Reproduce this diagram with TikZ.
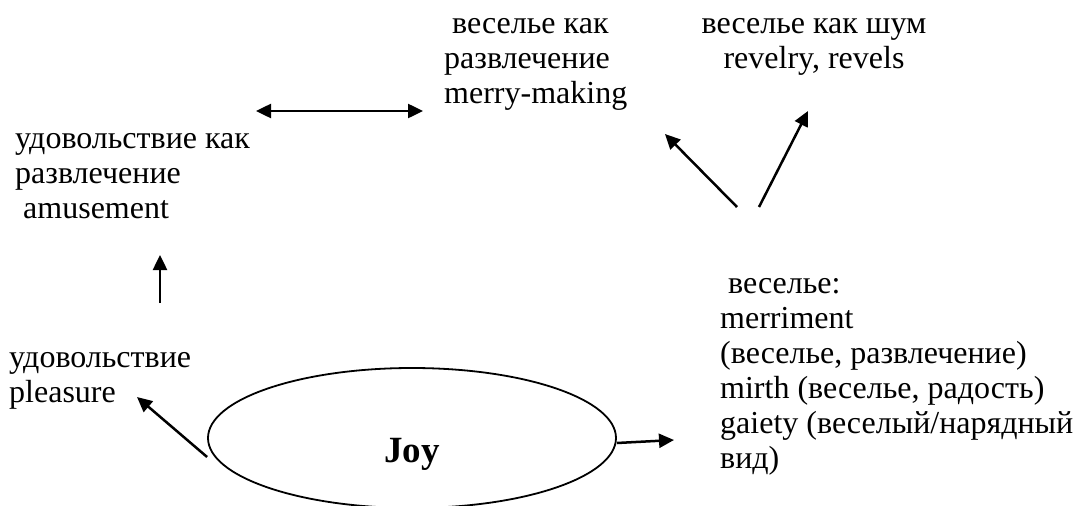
\documentclass[tikz,border=0pt]{standalone}
\usepackage{fontspec}
\setmainfont{Liberation Serif}
\usetikzlibrary{shapes.geometric, arrows.meta, positioning, calc}

\begin{document}
\begin{tikzpicture}[x=1pt, y=-1pt,
    txt/.style={anchor=base west, align=left, inner sep=0pt, font=\fontsize{32}{35}\selectfont},
    ctxt/.style={anchor=base, align=center, inner sep=0pt, font=\fontsize{32}{35}\selectfont},
    arr/.style={-{Triangle[length=15pt, width=14pt]}, line width=2.5pt},
    darr/.style={{Triangle[length=15pt, width=14pt]}-{Triangle[length=15pt, width=14pt]}, line width=2.5pt},
    oval/.style={ellipse, draw, line width=1.8pt, minimum width=408pt, minimum height=140pt, inner sep=0pt},
]
    \useasboundingbox (0,0) rectangle (1074,506);
    % Central node
    \node[oval] (joy) at (412,438) {};
    \node[font=\fontsize{37}{42}\selectfont\bfseries, anchor=base] (joytext) at (412,462) {Joy};
    % Senses (positions are last-line baselines)
    \node[txt] (pleasure) at (9,402) {удовольствие\\pleasure};
    \node[txt] (amuse) at (15,218) {удовольствие как\\развлечение\\\ amusement};
    \node[txt] (merrymaking) at (444,103) {\ веселье как\\развлечение\\merry-making};
    \node[ctxt] (revelry) at (814,68) {веселье как шум\\revelry, revels};
    \node[txt] (merriment) at (720,468) {\ веселье:\\merriment\\(веселье, развлечение)\\mirth (веселье, радость)\\gaiety (веселый/нарядный\\вид)};
    % Arrow ends
    \coordinate (a1) at (160,303);
    \coordinate (a1t) at (160,255);
    \coordinate (a2) at (137,397);
    \coordinate (d1) at (256,111);
    \coordinate (d2) at (423,111);
    \coordinate (fork) at (737,207);
    \coordinate (fork2) at (759,207);
    \coordinate (b1) at (665,134);
    \coordinate (b2) at (808,111);
    \coordinate (c1) at (674,440);
    % Arrows
    \draw[arr] ([yshift=-19pt]joy.west) -- (a2);
    \draw[arr] (a1) -- (a1t);
    \draw[darr] (d1) -- (d2);
    \draw[arr] (fork) -- (b1);
    \draw[arr] (fork2) -- (b2);
    \draw[arr] ([yshift=-5pt]joy.east) -- (c1);
\end{tikzpicture}
\end{document}
